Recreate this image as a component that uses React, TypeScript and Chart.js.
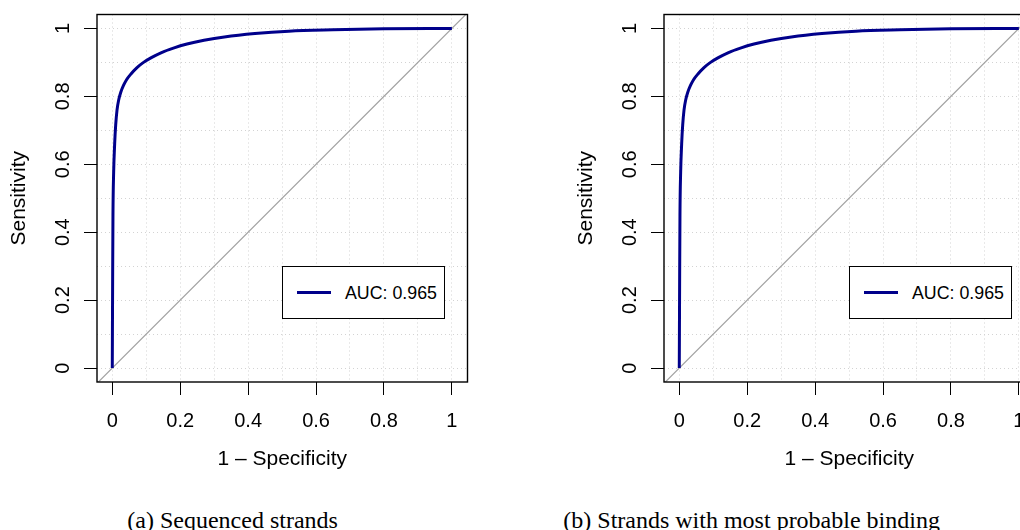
import React, { useEffect, useRef } from "react";
import { Chart, registerables } from "chart.js";

Chart.register(...registerables);

// ---- data ----
const FPR_A = [0, 0.001, 0.002, 0.004, 0.007, 0.01, 0.014, 0.019, 0.025, 0.033, 0.042, 0.055, 0.072, 0.092, 0.115, 0.145, 0.18, 0.22, 0.27, 0.33, 0.42, 0.52, 0.65, 0.8, 1.0];
const TPR_A = [0, 0.25, 0.45, 0.575, 0.66, 0.715, 0.76, 0.79, 0.812, 0.832, 0.849, 0.866, 0.884, 0.9, 0.914, 0.929, 0.942, 0.954, 0.965, 0.975, 0.985, 0.992, 0.996, 0.999, 1.0];
const FPR_B = [0, 0.001, 0.002, 0.004, 0.007, 0.01, 0.014, 0.019, 0.025, 0.033, 0.042, 0.055, 0.072, 0.092, 0.115, 0.145, 0.18, 0.22, 0.27, 0.33, 0.42, 0.52, 0.65, 0.8, 1.0];
const TPR_B = [0, 0.25, 0.45, 0.575, 0.66, 0.715, 0.76, 0.79, 0.812, 0.832, 0.849, 0.866, 0.884, 0.9, 0.914, 0.929, 0.942, 0.954, 0.965, 0.975, 0.985, 0.992, 0.996, 0.999, 1.0];
const AUC_A = "0.965";
const AUC_B = "0.965";
const DIAGONAL = [-0.1, 1.1];
const GRID_VALUES = [0, 0.1, 0.2, 0.3, 0.4, 0.5, 0.6, 0.7, 0.8, 0.9, 1.0];
const TICK_LABELS = ["0", "", "0.2", "", "0.4", "", "0.6", "", "0.8", "", "1"];
const X_TITLE = "1 \u2013 Specificity";
const Y_TITLE = "Sensitivity";
const CAPTION_A = "(a) Sequenced strands";
const CAPTION_B = "(b) Strands with most probable binding";

// ---- styles ----
const SANS = '"Liberation Sans", Arial, Helvetica, sans-serif';
const SERIF = '"Liberation Serif", "Times New Roman", serif';
const NAVY = "#00008B";
const CANVAS_W = 500;
const CANVAS_H = 480;

const framePlugin = {
  id: "frame",
  afterDraw(chart: any) {
    const { ctx, chartArea } = chart;
    const { left, top, right, bottom } = chartArea;
    ctx.save();
    ctx.strokeStyle = "#000";
    ctx.lineWidth = 1.4;
    ctx.strokeRect(left, top, right - left, bottom - top);
    ctx.restore();
  },
};

function setGridTicks(scale: any) {
  scale.ticks = GRID_VALUES.map((v) => ({ value: v }));
}

function clearPadding(s: any) {
  s.paddingTop = 0;
  s.paddingBottom = 0;
  s.paddingLeft = 0;
  s.paddingRight = 0;
}

function Panel(props: { left: number; fpr: number[]; tpr: number[]; auc: string }) {
  const ref = useRef<HTMLCanvasElement | null>(null);
  useEffect(() => {
    if (!ref.current) return;
    const roc = props.fpr.map((x, i) => ({ x, y: props.tpr[i] }));
    const diag = DIAGONAL.map((v) => ({ x: v, y: v }));
    const tickColor = (c: any) => (c.index % 2 === 0 ? "#000" : "rgba(0,0,0,0)");
    const chart = new Chart(ref.current, {
      type: "line",
      data: {
        datasets: [
          {
            label: "AUC: " + props.auc,
            data: roc,
            borderColor: NAVY,
            borderWidth: 3,
            pointRadius: 0,
            fill: false,
            cubicInterpolationMode: "monotone",
          },
          {
            label: "diagonal",
            data: diag,
            borderColor: "#a0a0a0",
            borderWidth: 1.2,
            pointRadius: 0,
            fill: false,
            clip: 0,
          },
        ],
      },
      options: {
        animation: false,
        responsive: false,
        events: [],
        layout: { padding: { left: 0, top: 14.5, right: 32.5, bottom: 0 } },
        plugins: { legend: { display: false }, tooltip: { enabled: false } },
        scales: {
          x: {
            type: "linear",
            min: -0.045,
            max: 1.046,
            afterBuildTicks: setGridTicks,
            afterFit: (s: any) => {
              s.height = 98;
              clearPadding(s);
            },
            grid: {
              color: "#d3d3d3",
              lineWidth: 1,
              drawTicks: true,
              tickLength: 13,
              tickWidth: 1,
              tickColor,
            },
            border: { display: false, dash: [1, 3] },
            ticks: {
              autoSkip: false,
              maxRotation: 0,
              minRotation: 0,
              padding: 14.4,
              color: "#000",
              font: { family: SANS, size: 20 },
              callback: (_v: any, i: number) => TICK_LABELS[i],
            },
            title: {
              display: true,
              text: X_TITLE,
              color: "#000",
              font: { family: SANS, size: 21 },
              padding: { top: 0, bottom: 8 },
            },
          },
          y: {
            type: "linear",
            min: -0.041,
            max: 1.041,
            afterBuildTicks: setGridTicks,
            afterFit: (s: any) => {
              s.width = 97;
              clearPadding(s);
            },
            grid: {
              color: "#d3d3d3",
              lineWidth: 1,
              drawTicks: true,
              tickLength: 13,
              tickWidth: 1,
              tickColor,
            },
            border: { display: false, dash: [1, 3] },
            ticks: {
              autoSkip: false,
              minRotation: 90,
              maxRotation: 90,
              crossAlign: "center",
              padding: 7,
              color: "#000",
              font: { family: SANS, size: 20 },
              callback: (_v: any, i: number) => TICK_LABELS[i],
            },
            title: {
              display: true,
              text: Y_TITLE,
              color: "#000",
              font: { family: SANS, size: 21 },
              padding: { top: 6.6, bottom: 0 },
            },
          },
        },
      } as any,
      plugins: [framePlugin],
    });
    return () => chart.destroy();
  }, [props.fpr, props.tpr, props.auc]);

  return (
    <div style={{ position: "absolute", left: props.left, top: 0, width: CANVAS_W, height: CANVAS_H }}>
      <canvas ref={ref} width={CANVAS_W} height={CANVAS_H} style={{ display: "block" }} />
      <div
        style={{
          position: "absolute",
          left: 282,
          top: 266,
          width: 163,
          height: 53,
          boxSizing: "border-box",
          border: "1px solid #000",
          background: "#fff",
        }}
      >
        <div style={{ position: "absolute", left: 14, top: 24.2, width: 34, height: 3, background: NAVY }} />
        <span
          style={{
            position: "absolute",
            left: 62,
            top: 16.3,
            fontFamily: SANS,
            fontSize: 17.8,
            lineHeight: "20px",
            whiteSpace: "nowrap",
            color: "#000",
          }}
        >
          {"AUC: " + props.auc}
        </span>
      </div>
    </div>
  );
}

export default function App() {
  const captionStyle: React.CSSProperties = {
    position: "absolute",
    top: 508.4,
    fontFamily: SERIF,
    fontSize: 24,
    lineHeight: "24px",
    whiteSpace: "nowrap",
    color: "#000",
  };
  return (
    <div
      style={{
        position: "absolute",
        left: 0,
        top: 0,
        width: 1020,
        height: 530,
        overflow: "hidden",
        background: "#fff",
      }}
    >
      <Panel left={0} fpr={FPR_A} tpr={TPR_A} auc={AUC_A} />
      <Panel left={567} fpr={FPR_B} tpr={TPR_B} auc={AUC_B} />
      <div style={{ ...captionStyle, left: 127.3 }}>{CAPTION_A}</div>
      <div style={{ ...captionStyle, left: 563.3 }}>{CAPTION_B}</div>
    </div>
  );
}
